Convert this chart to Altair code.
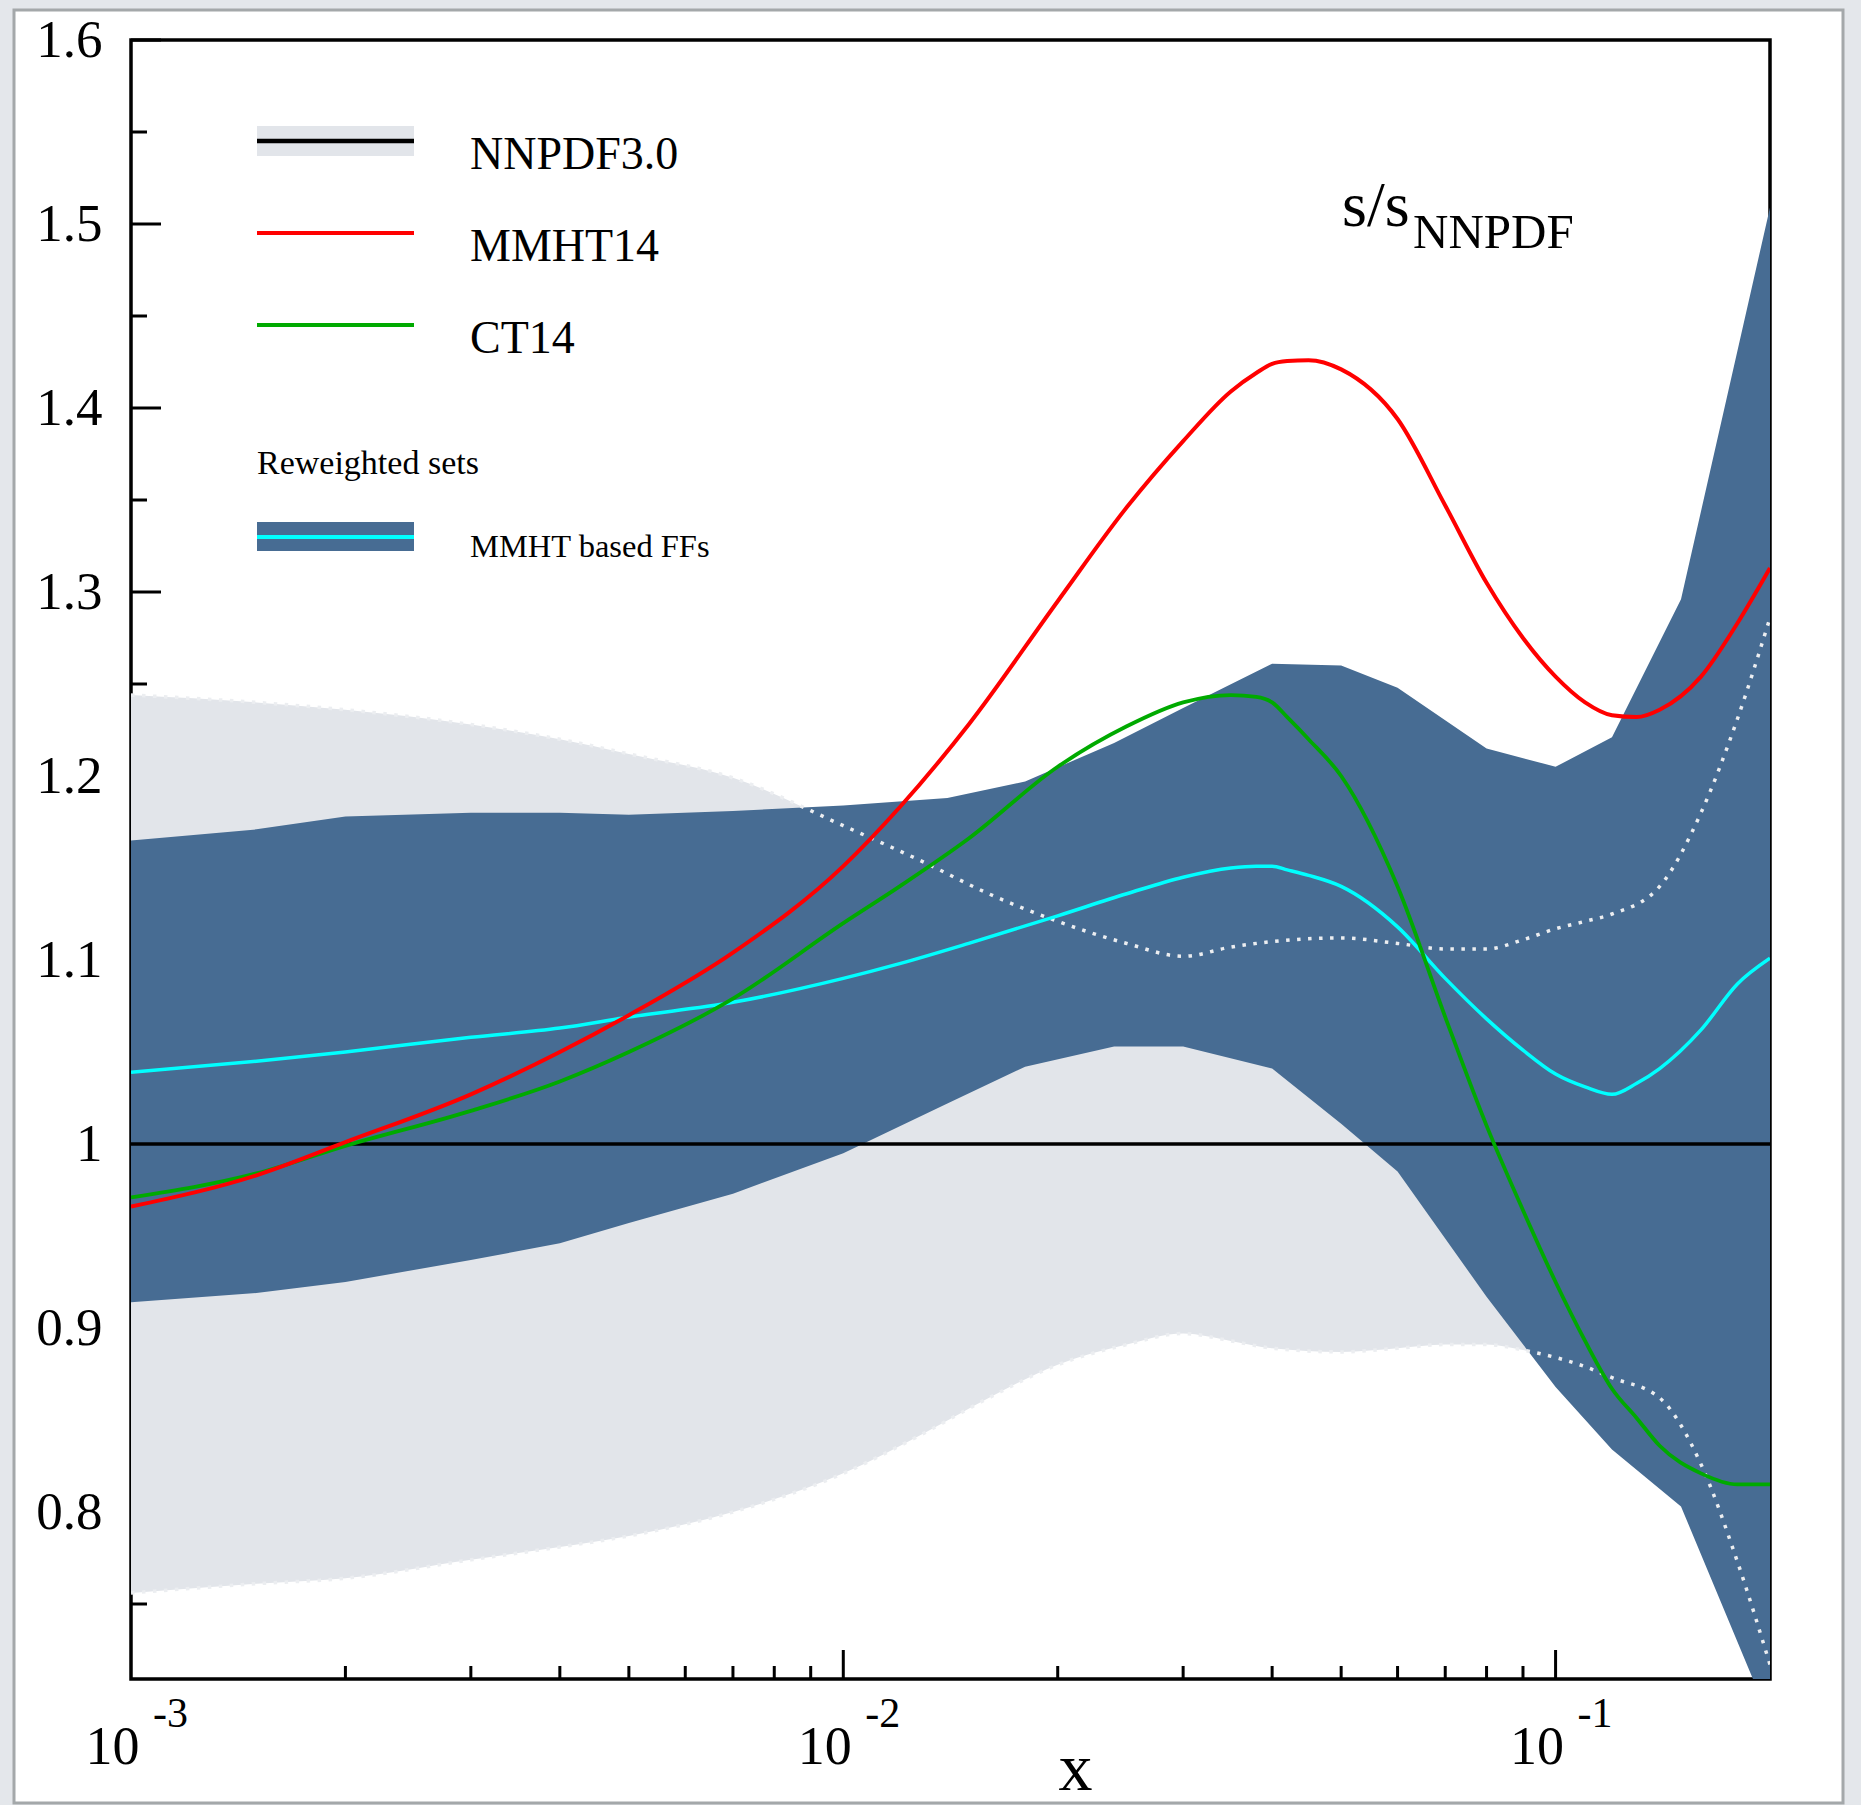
import altair as alt
import pandas as pd

FONT = "Liberation Serif"
W = H = 1639

# ---------------- data ----------------
# NNPDF3.0 uncertainty band (light grey, dotted white edges)
nn_x = [0.001, 0.0015, 0.002, 0.003, 0.004, 0.005, 0.007, 0.01, 0.013, 0.016, 0.02,
        0.025, 0.03, 0.035, 0.04, 0.05, 0.06, 0.07, 0.08, 0.09, 0.1, 0.11, 0.12,
        0.14, 0.16, 0.18, 0.2]
nn_hi = [1.244, 1.240, 1.236, 1.228, 1.220, 1.212, 1.199, 1.173, 1.153, 1.136, 1.121,
         1.109, 1.102, 1.107, 1.110, 1.112, 1.109, 1.106, 1.106, 1.111, 1.117, 1.121, 1.125,
         1.140, 1.180, 1.231, 1.286]
nn_lo = [0.756, 0.761, 0.764, 0.774, 0.781, 0.787, 0.800, 0.821, 0.843, 0.862, 0.880,
         0.891, 0.897, 0.893, 0.889, 0.887, 0.889, 0.891, 0.891, 0.888, 0.884, 0.879, 0.873,
         0.862, 0.826, 0.773, 0.717]

# Reweighted set (MMHT based FFs) band
rw_x = [0.001, 0.0015, 0.002, 0.003, 0.004, 0.005, 0.007, 0.01, 0.014, 0.018, 0.024,
        0.03, 0.04, 0.05, 0.06, 0.08, 0.1, 0.12, 0.15, 0.2]
rw_hi = [1.165, 1.171, 1.178, 1.180, 1.180, 1.179, 1.181, 1.184, 1.188, 1.197, 1.218,
         1.237, 1.261, 1.260, 1.248, 1.215, 1.205, 1.221, 1.296, 1.509]
rw_lo = [0.914, 0.919, 0.925, 0.937, 0.946, 0.957, 0.973, 0.995, 1.022, 1.042, 1.053,
         1.053, 1.041, 1.011, 0.985, 0.917, 0.868, 0.834, 0.803, 0.687]

# Central curves
ln_x = [0.001, 0.0015, 0.002, 0.003, 0.004, 0.005, 0.007, 0.01, 0.012, 0.015, 0.02,
        0.025, 0.03, 0.035, 0.038, 0.04, 0.042, 0.045, 0.05, 0.06, 0.07, 0.08, 0.09, 0.1,
        0.11, 0.12, 0.13, 0.14, 0.16, 0.18, 0.2]
mmht14 = [0.966, 0.983, 1.001, 1.027, 1.050, 1.070, 1.104, 1.151, 1.183, 1.228, 1.295,
          1.346, 1.382, 1.409, 1.419, 1.424, 1.4255, 1.426, 1.421, 1.394, 1.347, 1.305, 1.275,
          1.254, 1.240, 1.233, 1.232, 1.236, 1.254, 1.283, 1.313]
ct14 = [0.971, 0.984, 0.999, 1.018, 1.034, 1.050, 1.079, 1.120, 1.140, 1.166, 1.205,
        1.227, 1.240, 1.244, 1.243, 1.240, 1.232, 1.220, 1.200, 1.140, 1.069, 1.010, 0.964,
        0.925, 0.893, 0.867, 0.851, 0.836, 0.821, 0.815, 0.815]
mmht_ff = [1.039, 1.045, 1.050, 1.058, 1.063, 1.069, 1.077, 1.090, 1.098, 1.109, 1.124,
           1.136, 1.145, 1.150, 1.151, 1.151, 1.149, 1.146, 1.140, 1.118, 1.090, 1.068, 1.051,
           1.038, 1.031, 1.027, 1.033, 1.041, 1.062, 1.087, 1.101]
nn_central_x = [0.001, 0.2]
nn_central = [1.0, 1.0]

# Axis ticks / labels
y_major = [0.8, 0.9, 1.0, 1.1, 1.2, 1.3, 1.4, 1.5, 1.6]
y_minor = [0.75, 0.85, 0.95, 1.05, 1.15, 1.25, 1.35, 1.45, 1.55]
x_major = [0.001, 0.01, 0.1]
x_exponents = ["-3", "-2", "-1"]
x_minor = [0.002, 0.003, 0.004, 0.005, 0.006, 0.007, 0.008, 0.009,
           0.02, 0.03, 0.04, 0.05, 0.06, 0.07, 0.08, 0.09]

# ---------------- scales & axes ----------------
xscale = alt.Scale(type="log", domain=[0.001, 0.2], nice=False)
yscale = alt.Scale(type="linear", domain=[0.70924, 1.6], nice=False, zero=False)

x_axis = alt.Axis(values=x_major, labelExpr="'10'", labelFont=FONT, labelFontSize=54,
                  labelColor="black", labelAlign="right", labelOffset=8,
                  labelBaseline="alphabetic", labelPadding=84, labelFlush=False,
                  labelOverlap=False, domain=False, ticks=False, grid=False,
                  title="x", titleFont=FONT, titleFontSize=68, titleFontWeight="normal",
                  titleColor="black", titleX=944, titleY=110, titleAlign="center",
                  titleBaseline="alphabetic", zindex=1)
y_axis = alt.Axis(values=y_major,
                  labelExpr="datum.value == 1 ? '1' : format(datum.value, '.1f')",
                  labelFont=FONT, labelFontSize=53, labelColor="black", labelPadding=29,
                  labelBaseline="middle", labelOverlap=False, labelFlush=False,
                  domain=False, ticks=False, grid=False, title=None, zindex=1)


def X(f="x"):
    return alt.X(f"{f}:Q", scale=xscale, axis=x_axis)


def Y(f="y"):
    return alt.Y(f"{f}:Q", scale=yscale, axis=y_axis)


one = pd.DataFrame({"a": [0]})
layers = []

# white panel with grey border (page decoration)
layers.append(alt.Chart(one).mark_rect(fill="white", stroke="#a4a8aa", strokeWidth=3).encode(
    x=alt.value(-117), x2=alt.value(1712), y=alt.value(-30), y2=alt.value(1763)))

# plot frame
frame_df = pd.DataFrame({"x": [0.001], "x2": [0.2], "y": [0.70924], "y2": [1.6]})
layers.append(alt.Chart(frame_df).mark_rect(fillOpacity=0, stroke="black", strokeWidth=3.5).encode(
    x=X(), x2="x2:Q", y=Y(), y2="y2:Q"))

# inward ticks
layers.append(alt.Chart(pd.DataFrame({"y": y_major})).mark_rule(color="black", strokeWidth=3).encode(
    y=Y(), x=alt.value(0), x2=alt.value(30)))
layers.append(alt.Chart(pd.DataFrame({"y": y_minor})).mark_rule(color="black", strokeWidth=3).encode(
    y=Y(), x=alt.value(0), x2=alt.value(16)))
layers.append(alt.Chart(pd.DataFrame({"x": x_major[1:]})).mark_rule(color="black", strokeWidth=3).encode(
    x=X(), y=alt.value(H), y2=alt.value(H - 29)))
layers.append(alt.Chart(pd.DataFrame({"x": x_minor})).mark_rule(color="black", strokeWidth=3).encode(
    x=X(), y=alt.value(H), y2=alt.value(H - 13)))

# bands
nn_df = pd.DataFrame({"x": nn_x, "lo": nn_lo, "hi": nn_hi})
rw_df = pd.DataFrame({"x": rw_x, "lo": rw_lo, "hi": rw_hi})
layers.append(alt.Chart(nn_df).mark_area(color="#e2e5ea", clip=True, interpolate="monotone").encode(
    x=X(), y=Y("lo"), y2=alt.Y2("hi")))
layers.append(alt.Chart(rw_df).mark_area(color="#476c93", clip=True).encode(
    x=X(), y=Y("lo"), y2=alt.Y2("hi")))

# dotted white edges of NNPDF band
edge_df = pd.concat([
    pd.DataFrame({"x": nn_x, "y": nn_hi, "edge": "hi"}),
    pd.DataFrame({"x": nn_x, "y": nn_lo, "edge": "lo"}),
])
layers.append(alt.Chart(edge_df).mark_line(color="#eceef1", strokeWidth=3.5, strokeDash=[3.5, 7.5],
                                           clip=True, interpolate="monotone").encode(
    x=X(), y=Y(), detail="edge:N"))

# central lines
layers.append(alt.Chart(pd.DataFrame({"x": nn_central_x, "y": nn_central})).mark_line(
    color="black", strokeWidth=3.5, clip=True).encode(x=X(), y=Y()))
for vals, col, sw in [(mmht_ff, "#00ffff", 3.5), (ct14, "#00aa00", 3.8), (mmht14, "#ff0000", 4)]:
    layers.append(alt.Chart(pd.DataFrame({"x": ln_x, "y": vals})).mark_line(
        color=col, strokeWidth=sw, clip=True, interpolate="monotone").encode(x=X(), y=Y()))

# x tick label exponents
layers.append(alt.Chart(pd.DataFrame({"x": x_major, "e": x_exponents})).mark_text(
    align="left", baseline="alphabetic", dx=22, font=FONT, fontSize=42, color="black").encode(
    x=X(), y=alt.value(1687), text="e:N"))

# legend (manual)
def legend_rect(color, y0, y1):
    return alt.Chart(one).mark_rect(color=color).encode(
        x=alt.value(126), x2=alt.value(283), y=alt.value(y0), y2=alt.value(y1))


def legend_line(color, y, sw):
    return alt.Chart(one).mark_rule(color=color, strokeWidth=sw).encode(
        x=alt.value(126), x2=alt.value(283), y=alt.value(y))


def label(text, x, y, size):
    return alt.Chart(one).mark_text(text=text, align="left", baseline="alphabetic", font=FONT,
                                    fontSize=size, color="black").encode(
        x=alt.value(x), y=alt.value(y))


layers += [
    legend_rect("#e2e5ea", 86, 116), legend_line("black", 101, 4.5),
    legend_line("#ff0000", 193, 4), legend_line("#00aa00", 285, 4),
    legend_rect("#476c93", 482, 511), legend_line("#00ffff", 497, 4),
    label("NNPDF3.0", 339, 129, 46), label("MMHT14", 339, 221, 46), label("CT14", 339, 313, 46),
    label("Reweighted sets", 126, 434, 34), label("MMHT based FFs", 339, 517, 32.5),
    label("s/s", 1211, 186, 64), label("NNPDF", 1282, 208, 49),
]

chart = alt.layer(*layers).properties(
    width=W, height=H,
    autosize=alt.AutoSizeParams(type="none"),
    padding={"left": 131, "top": 40, "right": 91, "bottom": 126},
    background="#e4e7eb",
).configure_view(stroke="transparent")

chart.save("out.html", embed_options={"renderer": "svg", "actions": False})
